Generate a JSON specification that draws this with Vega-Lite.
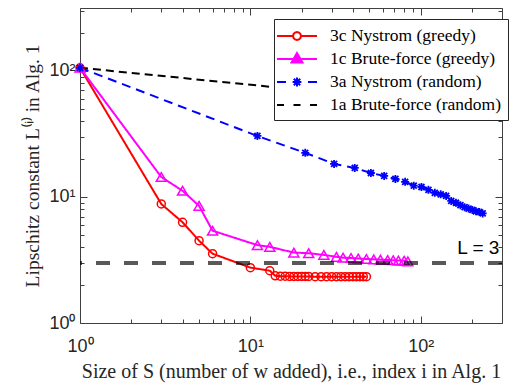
{
  "$schema": "https://vega.github.io/schema/vega-lite/v6.json",
  "width": 422,
  "height": 315,
  "autosize": "none",
  "padding": {"left": 80, "top": 8, "right": 9, "bottom": 66},
  "background": "white",
  "config": {
    "view": {"stroke": "#404040", "strokeWidth": 1},
    "axis": {
      "domain": false, "grid": false, "tickColor": "#404040", "tickWidth": 1,
      "labelColor": "#262626", "labelFont": "Liberation Sans", "labelFontSize": 18,
      "titleFont": "Liberation Serif", "titleFontWeight": "normal", "titleColor": "#262626"
    }
  },
  "datasets": {
    "main": [
      {"s": "3c Nystrom (greedy)", "x": 1, "y": 106},
      {"s": "3c Nystrom (greedy)", "x": 3, "y": 8.8},
      {"s": "3c Nystrom (greedy)", "x": 4, "y": 6.3},
      {"s": "3c Nystrom (greedy)", "x": 5, "y": 4.5},
      {"s": "3c Nystrom (greedy)", "x": 6, "y": 3.55},
      {"s": "3c Nystrom (greedy)", "x": 10, "y": 2.75},
      {"s": "3c Nystrom (greedy)", "x": 13, "y": 2.6},
      {"s": "3c Nystrom (greedy)", "x": 14, "y": 2.37},
      {"s": "3c Nystrom (greedy)", "x": 15, "y": 2.35},
      {"s": "3c Nystrom (greedy)", "x": 16, "y": 2.35},
      {"s": "3c Nystrom (greedy)", "x": 17, "y": 2.34},
      {"s": "3c Nystrom (greedy)", "x": 18, "y": 2.34},
      {"s": "3c Nystrom (greedy)", "x": 19, "y": 2.34},
      {"s": "3c Nystrom (greedy)", "x": 20, "y": 2.34},
      {"s": "3c Nystrom (greedy)", "x": 21, "y": 2.34},
      {"s": "3c Nystrom (greedy)", "x": 22, "y": 2.34},
      {"s": "3c Nystrom (greedy)", "x": 24, "y": 2.33},
      {"s": "3c Nystrom (greedy)", "x": 26, "y": 2.33},
      {"s": "3c Nystrom (greedy)", "x": 28, "y": 2.33},
      {"s": "3c Nystrom (greedy)", "x": 30, "y": 2.33},
      {"s": "3c Nystrom (greedy)", "x": 32, "y": 2.33},
      {"s": "3c Nystrom (greedy)", "x": 34, "y": 2.33},
      {"s": "3c Nystrom (greedy)", "x": 36, "y": 2.33},
      {"s": "3c Nystrom (greedy)", "x": 38, "y": 2.33},
      {"s": "3c Nystrom (greedy)", "x": 40, "y": 2.33},
      {"s": "3c Nystrom (greedy)", "x": 42, "y": 2.33},
      {"s": "3c Nystrom (greedy)", "x": 44, "y": 2.33},
      {"s": "3c Nystrom (greedy)", "x": 46, "y": 2.33},
      {"s": "3c Nystrom (greedy)", "x": 48, "y": 2.33},
      {"s": "1c Brute-force (greedy)", "x": 1, "y": 106},
      {"s": "1c Brute-force (greedy)", "x": 3, "y": 14.4},
      {"s": "1c Brute-force (greedy)", "x": 4, "y": 11.2},
      {"s": "1c Brute-force (greedy)", "x": 5, "y": 8.5},
      {"s": "1c Brute-force (greedy)", "x": 6, "y": 5.4},
      {"s": "1c Brute-force (greedy)", "x": 11, "y": 4.15},
      {"s": "1c Brute-force (greedy)", "x": 13, "y": 4.02},
      {"s": "1c Brute-force (greedy)", "x": 18, "y": 3.62},
      {"s": "1c Brute-force (greedy)", "x": 22, "y": 3.58},
      {"s": "1c Brute-force (greedy)", "x": 27, "y": 3.47},
      {"s": "1c Brute-force (greedy)", "x": 32, "y": 3.35},
      {"s": "1c Brute-force (greedy)", "x": 35, "y": 3.3},
      {"s": "1c Brute-force (greedy)", "x": 39, "y": 3.28},
      {"s": "1c Brute-force (greedy)", "x": 43, "y": 3.25},
      {"s": "1c Brute-force (greedy)", "x": 48, "y": 3.22},
      {"s": "1c Brute-force (greedy)", "x": 53, "y": 3.2},
      {"s": "1c Brute-force (greedy)", "x": 58, "y": 3.18},
      {"s": "1c Brute-force (greedy)", "x": 64, "y": 3.16},
      {"s": "1c Brute-force (greedy)", "x": 69, "y": 3.15},
      {"s": "1c Brute-force (greedy)", "x": 74, "y": 3.13},
      {"s": "1c Brute-force (greedy)", "x": 80, "y": 3.12},
      {"s": "1c Brute-force (greedy)", "x": 84, "y": 3.08},
      {"s": "3a Nystrom (random)", "x": 1, "y": 106},
      {"s": "3a Nystrom (random)", "x": 11, "y": 30.5},
      {"s": "3a Nystrom (random)", "x": 21, "y": 22.4},
      {"s": "3a Nystrom (random)", "x": 31, "y": 18.3},
      {"s": "3a Nystrom (random)", "x": 41, "y": 17.0},
      {"s": "3a Nystrom (random)", "x": 51, "y": 15.5},
      {"s": "3a Nystrom (random)", "x": 61, "y": 14.7},
      {"s": "3a Nystrom (random)", "x": 71, "y": 13.9},
      {"s": "3a Nystrom (random)", "x": 81, "y": 13.2},
      {"s": "3a Nystrom (random)", "x": 91, "y": 12.3},
      {"s": "3a Nystrom (random)", "x": 101, "y": 12.0},
      {"s": "3a Nystrom (random)", "x": 111, "y": 11.4},
      {"s": "3a Nystrom (random)", "x": 121, "y": 10.8},
      {"s": "3a Nystrom (random)", "x": 131, "y": 10.5},
      {"s": "3a Nystrom (random)", "x": 141, "y": 10.2},
      {"s": "3a Nystrom (random)", "x": 151, "y": 9.3},
      {"s": "3a Nystrom (random)", "x": 161, "y": 9.0},
      {"s": "3a Nystrom (random)", "x": 171, "y": 8.6},
      {"s": "3a Nystrom (random)", "x": 181, "y": 8.3},
      {"s": "3a Nystrom (random)", "x": 191, "y": 8.1},
      {"s": "3a Nystrom (random)", "x": 201, "y": 7.9},
      {"s": "3a Nystrom (random)", "x": 211, "y": 7.7},
      {"s": "3a Nystrom (random)", "x": 221, "y": 7.6},
      {"s": "3a Nystrom (random)", "x": 231, "y": 7.4},
      {"s": "1a Brute-force (random)", "x": 1, "y": 106},
      {"s": "1a Brute-force (random)", "x": 13, "y": 75},
      {"s": "1a Brute-force (random)", "x": 250, "y": 48}
    ],
    "ref": [{"y": 3}],
    "lab": [{"x": 218, "y": 3.95, "t": "L = 3"}]
  },
  "layer": [
    {
      "data": {"name": "main"},
      "mark": {"type": "line", "strokeWidth": 2},
      "encoding": {
        "x": {"field": "x", "type": "quantitative", "scale": {"type": "log", "domain": [1, 300], "nice": false},
          "axis": {"orient": "bottom", "values": [1,2,3,4,5,6,7,8,9,10,20,30,40,50,60,70,80,90,100,200,300],
            "labelExpr": "datum.value == 1 ? '10⁰' : datum.value == 10 ? '10¹' : datum.value == 100 ? '10²' : ''",
            "labelOverlap": false, "labelPadding": 21, "labelFlush": false,
            "tickSize": {"condition": {"test": "datum.value == 1 || datum.value == 10 || datum.value == 100", "value": -7}, "value": -4},
            "title": "Size of S (number of w added), i.e., index i in Alg. 1", "titlePadding": 3, "titleFontSize": 20}},
        "y": {"field": "y", "type": "quantitative", "scale": {"type": "log", "domain": [1, 316], "nice": false},
          "axis": {"orient": "left", "values": [1,2,3,4,5,6,7,8,9,10,20,30,40,50,60,70,80,90,100,200,300],
            "labelExpr": "datum.value == 1 ? '10⁰' : datum.value == 10 ? '10¹' : datum.value == 100 ? '10²' : ''",
            "labelOverlap": false, "labelPadding": 12, "labelFlush": false,
            "tickSize": {"condition": {"test": "datum.value == 1 || datum.value == 10 || datum.value == 100", "value": -7}, "value": -4},
            "title": "Lipschitz constant L⁽ⁱ⁾ in Alg. 1", "titlePadding": 6, "titleFontSize": 19.5}},
        "stroke": {"field": "s", "type": "nominal", "legend": null,
          "scale": {"domain": ["1a Brute-force (random)", "3a Nystrom (random)", "1c Brute-force (greedy)", "3c Nystrom (greedy)"],
            "range": ["#000000", "#0000ff", "#ff00ff", "#ff0000"]}},
        "strokeDash": {"field": "s", "type": "nominal", "legend": null,
          "scale": {"domain": ["1a Brute-force (random)", "3a Nystrom (random)", "1c Brute-force (greedy)", "3c Nystrom (greedy)"],
            "range": [[8, 5], [9, 6], [1, 0], [1, 0]]}}
      }
    },
    {
      "data": {"name": "main"},
      "transform": [{"filter": "datum.s == '3c Nystrom (greedy)'"}],
      "mark": {"type": "point", "shape": "circle", "filled": false, "color": "#ff0000", "size": 64, "strokeWidth": 1.5, "opacity": 1},
      "encoding": {
        "x": {"field": "x", "type": "quantitative", "scale": {"type": "log", "domain": [1, 300], "nice": false}, "axis": null},
        "y": {"field": "y", "type": "quantitative", "scale": {"type": "log", "domain": [1, 316], "nice": false}, "axis": null}
      }
    },
    {
      "data": {"name": "main"},
      "transform": [{"filter": "datum.s == '1c Brute-force (greedy)'"}],
      "mark": {"type": "point", "shape": "triangle-up", "filled": false, "color": "#ff00ff", "size": 100, "strokeWidth": 1.5, "opacity": 1},
      "encoding": {
        "x": {"field": "x", "type": "quantitative", "scale": {"type": "log", "domain": [1, 300], "nice": false}, "axis": null},
        "y": {"field": "y", "type": "quantitative", "scale": {"type": "log", "domain": [1, 316], "nice": false}, "axis": null}
      }
    },
    {
      "data": {"name": "main"},
      "transform": [{"filter": "datum.s == '3a Nystrom (random)'"}],
      "mark": {"type": "point", "shape": "M-1,0L1,0M0,-1L0,1M-0.75,-0.75L0.75,0.75M-0.75,0.75L0.75,-0.75", "filled": false, "color": "#0000ff", "size": 64, "strokeWidth": 1.8, "opacity": 1},
      "encoding": {
        "x": {"field": "x", "type": "quantitative", "scale": {"type": "log", "domain": [1, 300], "nice": false}, "axis": null},
        "y": {"field": "y", "type": "quantitative", "scale": {"type": "log", "domain": [1, 316], "nice": false}, "axis": null}
      }
    },
    {
      "data": {"name": "ref"},
      "mark": {"type": "rule", "color": "#000000", "opacity": 0.65, "strokeWidth": 4, "strokeDash": [14, 14]},
      "encoding": {
        "y": {"field": "y", "type": "quantitative", "scale": {"type": "log", "domain": [1, 316], "nice": false}, "axis": null}
      }
    },
    {
      "data": {"name": "lab"},
      "mark": {"type": "text", "font": "Liberation Sans", "fontSize": 19, "color": "#000000", "align": "center", "baseline": "middle"},
      "encoding": {
        "x": {"field": "x", "type": "quantitative", "scale": {"type": "log", "domain": [1, 300], "nice": false},
          "axis": {"orient": "top", "values": [1,2,3,4,5,6,7,8,9,10,20,30,40,50,60,70,80,90,100,200,300], "labels": false, "title": null,
            "tickSize": {"condition": {"test": "datum.value == 1 || datum.value == 10 || datum.value == 100", "value": -7}, "value": -4}}},
        "y": {"field": "y", "type": "quantitative", "scale": {"type": "log", "domain": [1, 316], "nice": false},
          "axis": {"orient": "right", "values": [1,2,3,4,5,6,7,8,9,10,20,30,40,50,60,70,80,90,100,200,300], "labels": false, "title": null,
            "tickSize": {"condition": {"test": "datum.value == 1 || datum.value == 10 || datum.value == 100", "value": -7}, "value": -4}}},
        "text": {"field": "t"}
      }
    },
    {
      "data": {"name": "main"},
      "transform": [{"filter": "datum.x == 1"}],
      "mark": {"type": "point", "filled": false, "opacity": 0.01},
      "encoding": {
        "x": {"field": "x", "type": "quantitative", "scale": {"type": "log", "domain": [1, 300], "nice": false}, "axis": null},
        "y": {"field": "y", "type": "quantitative", "scale": {"type": "log", "domain": [1, 316], "nice": false}, "axis": null},
        "color": {"field": "s", "type": "nominal",
          "scale": {"domain": ["3c Nystrom (greedy)", "1c Brute-force (greedy)", "3a Nystrom (random)", "1a Brute-force (random)"],
            "range": ["#ff0000", "#ff00ff", "#0000ff", "#000000"]},
          "legend": {"title": null, "orient": "none", "legendX": 194, "legendY": 11, "fillColor": "white", "strokeColor": "#262626",
            "padding": 6, "symbolSize": 400, "symbolStrokeWidth": 2, "symbolOffset": 6, "labelOffset": 22, "labelLimit": 300,
            "labelFont": "Liberation Serif", "labelFontSize": 17.5, "labelColor": "#000000", "rowPadding": 3, "symbolOpacity": 1,
            "encode": {"symbols": {"update": {"opacity": {"value": 1}}}}}},
        "shape": {"field": "s", "type": "nominal",
          "scale": {"domain": ["3c Nystrom (greedy)", "1c Brute-force (greedy)", "3a Nystrom (random)", "1a Brute-force (random)"],
            "range": [
              "M-2,0L-0.4,0M0.4,0L2,0M0.4,0L0.346,0.2L0.2,0.346L0,0.4L-0.2,0.346L-0.346,0.2L-0.4,0L-0.346,-0.2L-0.2,-0.346L0,-0.4L0.2,-0.346L0.346,-0.2Z",
              "M-2,0L2,0M0,-0.6L0.55,0.34L-0.55,0.34ZM0,-0.3L0.28,0.17L-0.28,0.17ZM0,-0.1L0.1,0.05L-0.1,0.05Z",
              "M-2,0L-1.1,0M1.1,0L2,0M-0.44,0L0.44,0M0,-0.44L0,0.44M-0.32,-0.32L0.32,0.32M-0.32,0.32L0.32,-0.32",
              "M-2,0L-1.3,0M-0.35,0L0.35,0M1.3,0L2,0"
            ]},
          "legend": {"title": null, "orient": "none", "legendX": 194, "legendY": 11, "fillColor": "white", "strokeColor": "#262626",
            "padding": 6, "symbolSize": 400, "symbolStrokeWidth": 2, "symbolOffset": 6, "labelOffset": 22, "labelLimit": 300,
            "labelFont": "Liberation Serif", "labelFontSize": 17.5, "labelColor": "#000000", "rowPadding": 3, "symbolOpacity": 1,
            "encode": {"symbols": {"update": {"opacity": {"value": 1}}}}}}
      }
    }
  ],
  "resolve": {"axis": {"x": "independent", "y": "independent"}}
}
